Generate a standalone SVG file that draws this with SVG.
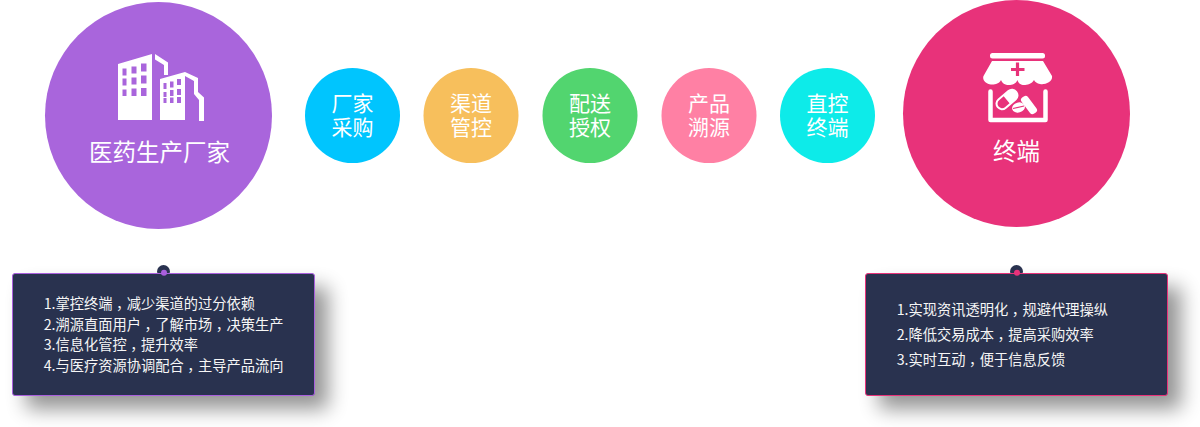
<svg xmlns="http://www.w3.org/2000/svg" width="1200" height="427" viewBox="0 0 1200 427">
<style>
text{font-family:"Noto Sans CJK SC","Liberation Sans",sans-serif;fill:#fff}
.big{font-size:23.5px;text-anchor:middle}
.small{font-size:21px;text-anchor:middle}
.note{font-size:14.25px;fill:#f6f6f6}
.c{letter-spacing:-3.5px}
.card{fill:#29324f;stroke-width:1}
.shadow{fill:#000;opacity:.42;filter:url(#blur)}
.pin{fill:#29324f}
.icon{fill:#fff}
</style>
<defs>
<filter id="blur" x="-20%" y="-30%" width="140%" height="160%"><feGaussianBlur stdDeviation="10"/></filter>
</defs>
<rect width="1200" height="427" fill="#fff"/>

<g id="node-manufacturer">
<circle cx="158.500" cy="115.500" r="113.500" fill="#a965dc"/>
<path class="icon" d="M118 64L152 54V120H118ZM155 54L168 62.500V75H164V65L155 59.500Z"/>
<g fill="#a965dc">
<rect x="122.500" y="68.500" width="4" height="7"/><rect x="131.500" y="66.500" width="5" height="7"/><rect x="141" y="63.500" width="5.500" height="8"/>
<rect x="122.500" y="78.500" width="4" height="7"/><rect x="131.500" y="77.500" width="5" height="7"/><rect x="141" y="75.500" width="5.500" height="8"/>
<rect x="122.500" y="89.500" width="4" height="6.500"/><rect x="131.500" y="88.500" width="5" height="7.500"/><rect x="141" y="88" width="5.500" height="8"/>
</g>
<path class="icon" d="M160 79L185 72V120H160ZM185 72L198 78V92L204 97.500V121H199V100L194 94V81L185 76Z"/>
<g fill="#a965dc">
<rect x="163.500" y="83" width="3" height="6"/><rect x="170" y="81.500" width="3.500" height="6"/><rect x="177" y="79" width="4" height="6"/>
<rect x="163.500" y="92" width="3" height="5"/><rect x="170" y="90" width="3.500" height="6"/><rect x="177" y="89" width="4" height="6"/>
<rect x="163.500" y="98" width="3" height="5"/><rect x="170" y="97.500" width="3.500" height="5.500"/><rect x="177" y="97" width="4" height="6"/>
</g>
<text class="big" x="159.500" y="160.500">医药生产厂家</text>
</g>

<g id="node-step1"><circle cx="352.500" cy="115.500" r="47.500" fill="#00c5fe"/><text class="small"><tspan x="352.500" y="111">厂家</tspan><tspan x="352.500" y="135">采购</tspan></text></g>
<g id="node-step2"><circle cx="471" cy="115.500" r="47.500" fill="#f7bf5c"/><text class="small"><tspan x="471" y="111">渠道</tspan><tspan x="471" y="135">管控</tspan></text></g>
<g id="node-step3"><circle cx="590" cy="115.500" r="47.500" fill="#52d56f"/><text class="small"><tspan x="590" y="111">配送</tspan><tspan x="590" y="135">授权</tspan></text></g>
<g id="node-step4"><circle cx="709" cy="115.500" r="47.500" fill="#ff80a4"/><text class="small"><tspan x="709" y="111">产品</tspan><tspan x="709" y="135">溯源</tspan></text></g>
<g id="node-step5"><circle cx="827.500" cy="115.500" r="47.500" fill="#0debe9"/><text class="small"><tspan x="827.500" y="111">直控</tspan><tspan x="827.500" y="135">终端</tspan></text></g>

<g id="node-terminal">
<circle cx="1016.500" cy="113.500" r="113.500" fill="#e8327a"/>
<rect class="icon" x="990" y="53" width="55" height="5.500" rx="2.500"/>
<path class="icon" d="M992 61H1043L1052 76C1053 82 1045 85 1040 84C1037 83.500 1035 82 1034 80C1032 84 1027 85 1024 85C1021 85 1018 83 1017.500 80C1016 84 1012 85 1009 85C1005 85 1002 83 1001 80C999 84 994 85 991 84.500C986 84 982 80 983.500 76Z"/>
<path d="M1017.500 62.500V76M1011 69.500H1024.500" stroke="#e8327a" stroke-width="3.200" fill="none"/>
<path d="M990.500 91.500V120H1045.500V91.500" fill="none" stroke="#fff" stroke-width="4.500" stroke-linecap="round" stroke-linejoin="round"/>
<g transform="rotate(-40 1007 99.500)"><rect class="icon" x="994" y="93" width="26" height="13" rx="6.500"/><path d="M1006.500 95H1000.500A4.500 4.500 0 0 0 1000.500 104H1006.500Z" fill="#e8327a"/></g>
<ellipse class="icon" cx="1018.500" cy="107.500" rx="6.500" ry="5" transform="rotate(-15 1018.500 107.500)"/>
<path d="M1013 108.500L1024 106" stroke="#e8327a" stroke-width="1.200"/>
<rect class="icon" x="1025" y="95" width="8" height="20" rx="3" transform="rotate(-37 1029 105)"/>
<text class="big" x="1016.500" y="160">终端</text>
</g>

<g id="node-note-left">
<rect class="shadow" x="26" y="287" width="302" height="122" rx="3"/>
<circle class="pin" cx="163.500" cy="271.500" r="6.500"/>
<rect class="card" x="12.500" y="273.500" width="302" height="122" rx="2.500" stroke="#a95fdd"/>
<circle cx="164" cy="272.700" r="3" fill="#a95fdd"/>
<text class="note" x="43.700" y="309">1.掌控终端<tspan class="c" dx="3.500">，</tspan>减少渠道的过分依赖</text>
<text class="note" x="43.700" y="329.500">2.溯源直面用户<tspan class="c" dx="3.500">，</tspan>了解市场<tspan class="c" dx="3.500">，</tspan>决策生产</text>
<text class="note" x="43.700" y="350">3.信息化管控<tspan class="c" dx="3.500">，</tspan>提升效率</text>
<text class="note" x="43.700" y="371">4.与医疗资源协调配合<tspan class="c" dx="3.500">，</tspan>主导产品流向</text>
</g>

<g id="node-note-right">
<rect class="shadow" x="879" y="287" width="302" height="122" rx="3"/>
<circle class="pin" cx="1016.500" cy="271.500" r="6.500"/>
<rect class="card" x="865.500" y="273.500" width="302" height="122" rx="2.500" stroke="#e8327a"/>
<circle cx="1017" cy="272.700" r="3" fill="#e8327a"/>
<text class="note" x="896.700" y="315">1.实现资讯透明化<tspan class="c" dx="3.500">，</tspan>规避代理操纵</text>
<text class="note" x="896.700" y="340">2.降低交易成本<tspan class="c" dx="3.500">，</tspan>提高采购效率</text>
<text class="note" x="896.700" y="365">3.实时互动<tspan class="c" dx="3.500">，</tspan>便于信息反馈</text>
</g>
</svg>
